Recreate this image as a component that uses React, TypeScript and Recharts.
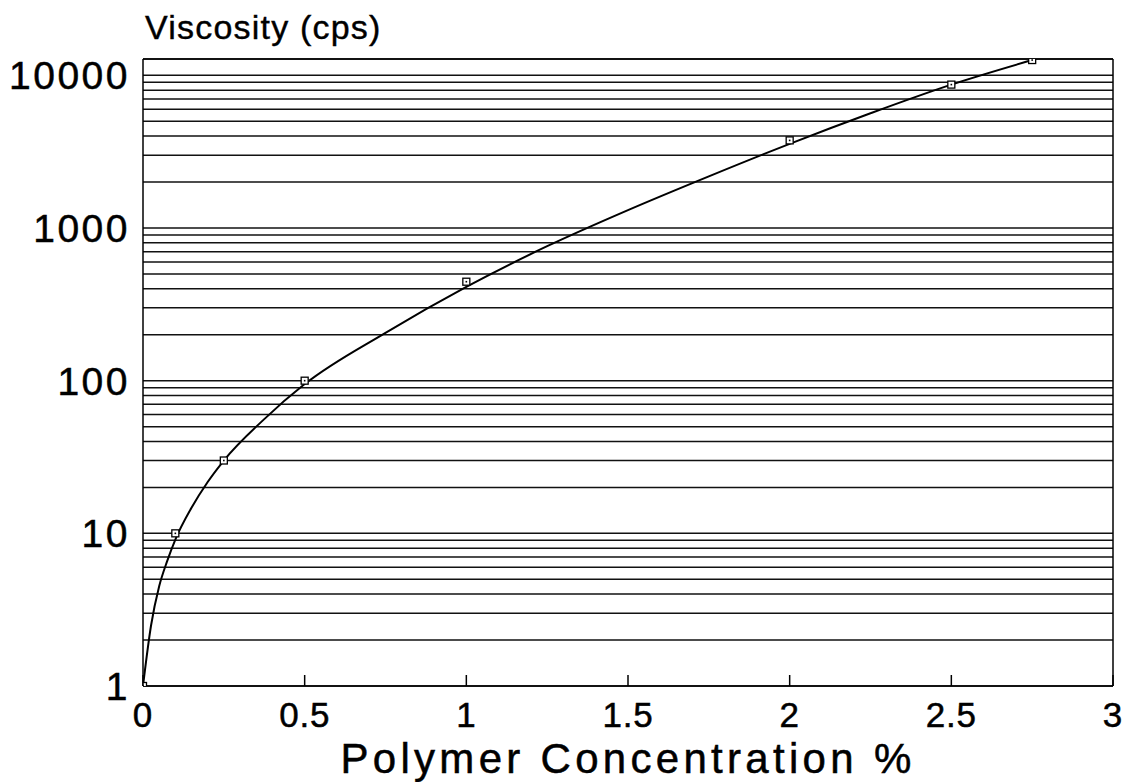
import { ComposedChart, Line, Scatter, XAxis, YAxis, CartesianGrid, ReferenceLine } from "recharts"

// measured samples
const concentration = [0, 0.1, 0.25, 0.5, 1, 2, 2.5, 2.75]
const viscosity = [1, 10, 30, 100, 445, 3750, 8700, 12600]

// fitted curve
const fitConcentration = [0, 0.025, 0.05, 0.075, 0.1, 0.15, 0.2, 0.25, 0.375, 0.5, 0.75, 1, 1.25, 1.5, 1.75, 2, 2.25, 2.5, 2.75]
const fitViscosity = [1, 2.5, 4.5, 6.6, 9.1, 14.7, 21.7, 30, 56, 95, 206, 412, 760, 1310, 2180, 3560, 5650, 8700, 12600]

const xTicks = [0, 0.5, 1, 1.5, 2, 2.5, 3]
const yLabels = [1, 10, 100, 1000, 10000]
const yGrid = [
  1, 2, 3, 4, 5, 6, 7, 8, 9,
  10, 20, 30, 40, 50, 60, 70, 80, 90,
  100, 200, 300, 400, 500, 600, 700, 800, 900,
  1000, 2000, 3000, 4000, 5000, 6000, 7000, 8000, 9000,
  10000,
]

const FONT = "'Liberation Sans', Arial, Helvetica, sans-serif"

const points = concentration.map((x, i) => ({ x, y: viscosity[i] }))
const fit = fitConcentration.map((x, i) => ({ x, y: fitViscosity[i] }))

function XTick(props: any) {
  const { x, y, payload } = props
  return (
    <g>
      <line x1={x} x2={x} y1={y} y2={y - 11} stroke="#000" strokeWidth={1.5} />
      <text
        x={x}
        y={y + 41}
        textAnchor="middle"
        fontSize={35}
        letterSpacing={0.8}
        fontFamily={FONT}
        fill="#000"
        stroke="#000"
        strokeWidth={0.5}
      >
        {String(payload.value)}
      </text>
    </g>
  )
}

function YTick(props: any) {
  const { x, y, payload } = props
  if (!yLabels.includes(payload.value)) return <g />
  return (
    <text
      x={x - 13}
      y={y + 14}
      textAnchor="end"
      fontSize={39}
      letterSpacing={2.5}
      fontFamily={FONT}
      fill="#000"
      stroke="#000"
      strokeWidth={0.5}
    >
      {String(payload.value)}
    </text>
  )
}

function SquareMark(props: any) {
  const { cx, cy } = props
  return (
    <g>
      <rect x={cx - 3.5} y={cy - 3.5} width={7} height={7} fill="#fff" stroke="#000" strokeWidth={1.3} />
      <rect x={cx - 0.8} y={cy - 0.8} width={1.6} height={1.6} fill="#000" />
    </g>
  )
}

export default function App() {
  return (
    <div style={{ position: "absolute", left: 0, top: 0, width: 1125, height: 782, background: "#fff" }}>
      <ComposedChart width={1125} height={782} margin={{ top: 59, right: 12, bottom: 0, left: 0 }}>
        <CartesianGrid vertical={false} stroke="#111" strokeWidth={1.5} />
        <XAxis
          type="number"
          dataKey="x"
          domain={[0, 3]}
          ticks={xTicks}
          interval={0}
          allowDataOverflow
          height={96}
          tickSize={0}
          tickMargin={0}
          tickLine={false}
          tick={<XTick />}
          axisLine={{ stroke: "#000", strokeWidth: 1.5 }}
          label={{
            content: (p: any) => (
              <text
                x={p.viewBox.x + p.viewBox.width / 2}
                y={p.viewBox.y + 87}
                textAnchor="middle"
                fontSize={42}
                letterSpacing={4.3}
                fontFamily={FONT}
                fill="#000"
                stroke="#000"
                strokeWidth={0.5}
              >
                Polymer Concentration %
              </text>
            ),
          }}
        />
        <YAxis
          type="number"
          dataKey="y"
          scale="log"
          domain={[1, 12800]}
          ticks={yGrid}
          interval={0}
          allowDataOverflow
          width={143}
          tickSize={0}
          tickMargin={0}
          tickLine={false}
          tick={<YTick />}
          axisLine={{ stroke: "#000", strokeWidth: 1.5 }}
          label={{
            content: (p: any) => (
              <text
                x={p.viewBox.x + p.viewBox.width + 2}
                y={p.viewBox.y - 20}
                fontSize={34}
                letterSpacing={1.2}
                fontFamily={FONT}
                fill="#000"
                stroke="#000"
                strokeWidth={0.4}
              >
                Viscosity (cps)
              </text>
            ),
          }}
        />
        <ReferenceLine y={12800} stroke="#000" strokeWidth={1.5} />
        <ReferenceLine x={3} stroke="#000" strokeWidth={1.5} />
        <Line
          data={fit}
          dataKey="y"
          type="monotone"
          stroke="#000"
          strokeWidth={2}
          dot={false}
          isAnimationActive={false}
        />
        <Scatter data={points} dataKey="y" shape={<SquareMark />} isAnimationActive={false} />
      </ComposedChart>
    </div>
  )
}
